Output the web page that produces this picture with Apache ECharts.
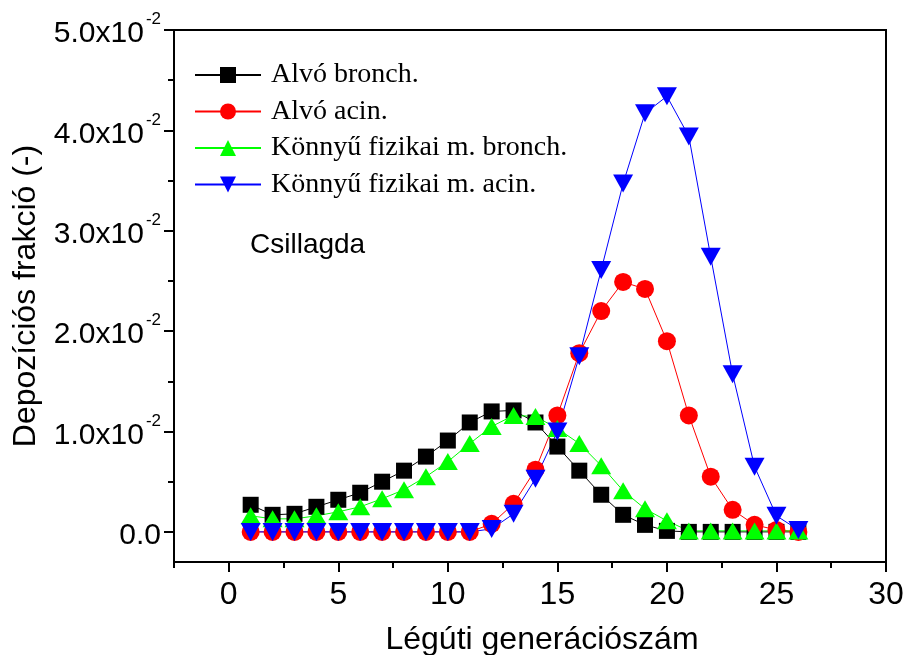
<!DOCTYPE html>
<html>
<head>
<meta charset="utf-8">
<script src="https://cdn.jsdelivr.net/npm/echarts@6/dist/echarts.min.js"></script>
<style>html,body{margin:0;padding:0;background:#fff}#c{width:904px;height:655px}</style>
</head>
<body>
<div id="c"></div>
<script>
var generations = [1,2,3,4,5,6,7,8,9,10,11,12,13,14,15,16,17,18,19,20,21,22,23,24,25,26];
var alvoBronch = [0.0027,0.0017,0.0018,0.0025,0.0032,0.0039,0.0050,0.0061,0.0075,0.0091,0.0109,0.0120,0.0121,0.0109,0.0085,0.0061,0.0037,0.0017,0.0007,0.0001,0,0,0,0,0,0];
var alvoAcin = [0,0,0,0,0,0,0,0,0,0,0,0.0008,0.0028,0.0062,0.0116,0.0178,0.0220,0.0249,0.0242,0.0190,0.0116,0.0055,0.0022,0.0007,0.0002,0.0000];
var kfBronch = [0.0016,0.0013,0.0013,0.0016,0.0020,0.0025,0.0033,0.0042,0.0055,0.0070,0.0088,0.0105,0.0116,0.0115,0.0103,0.0088,0.0066,0.0041,0.0023,0.0011,0.0001,0.0001,0.0001,0.0001,0.0001,0.0001];
var kfAcin = [0,0,0,0,0,0,0,0,0,0,0,0.0003,0.0018,0.0053,0.0100,0.0175,0.0261,0.0347,0.0417,0.0434,0.0394,0.0274,0.0157,0.0065,0.0016,0.0002];
var seriesNames = ['Alvó bronch.','Alvó acin.','Könnyű fizikai m. bronch.','Könnyű fizikai m. acin.'];
var xMajorTicks = [0,5,10,15,20,25,30];
var xMinorTicks = [-2.5,2.5,7.5,12.5,17.5,22.5,27.5];
var yMajorTicks = [0,0.01,0.02,0.03,0.04,0.05];
var yMinorTicks = [0.005,0.015,0.025,0.035,0.045];
var annotation = 'Csillagda';
var xTitle = 'Légúti generációszám';
var yTitle = 'Depozíciós frakció (-)';

function pairs(ys){ return generations.map(function(g,i){ return [g, ys[i]]; }); }

var chart = echarts.init(document.getElementById('c'), null, {renderer:'canvas'});
var sans = 'Liberation Sans';
var serif = 'Liberation Serif';
var xRange = {min:-2.5, max:30};
var yRange = {min:-0.003, max:0.05};

function mkSeries(name, data, color, symbol, size, rotate){
  return {
    name: name, type:'line', data: pairs(data),
    xAxisIndex:0, yAxisIndex:0,
    symbol: symbol, symbolSize: size, symbolRotate: rotate||0,
    showSymbol:true,
    itemStyle:{color:color, borderWidth:0},
    lineStyle:{color:color, width:1},
    emphasis:{disabled:true},
    animation:false
  };
}

chart.setOption({
  animation:false,
  backgroundColor:'#fff',
  grid:{left:174, right:18, top:30, bottom:93, show:true, borderColor:'#000', borderWidth:2, backgroundColor:'transparent', containLabel:false, outerBoundsMode:'none'},
  legend:{
    show:true, orient:'vertical', left:194, top:61, padding:0,
    itemWidth:66, itemHeight:20, itemGap:8.5,
    textStyle:{fontFamily:serif, fontSize:28, color:'#000', padding:[0,0,0,5]},
    data: seriesNames,
    selectedMode:false
  },
  xAxis:[{
    type:'value', min:xRange.min, max:xRange.max, position:'bottom',
    axisLine:{show:true, onZero:false, lineStyle:{color:'#000', width:2}},
    axisTick:{show:true, length:10, customValues:xMajorTicks, lineStyle:{color:'#000', width:2}},
    axisLabel:{show:true, customValues:xMajorTicks, margin:17, fontFamily:sans, fontSize:32, color:'#000'},
    splitLine:{show:false},
    name:xTitle, nameLocation:'middle', nameGap:62,
    nameTextStyle:{fontFamily:sans, fontSize:32, color:'#000', padding:[0,0,0,24]}
  },{
    type:'value', min:xRange.min, max:xRange.max, position:'bottom',
    axisLine:{show:false, onZero:false},
    axisTick:{show:true, length:6, customValues:xMinorTicks, lineStyle:{color:'#000', width:2}},
    axisLabel:{show:false},
    splitLine:{show:false}
  }],
  yAxis:[{
    type:'value', min:yRange.min, max:yRange.max, position:'left',
    axisLine:{show:true, onZero:false, lineStyle:{color:'#000', width:2}},
    axisTick:{show:true, length:10, customValues:yMajorTicks, lineStyle:{color:'#000', width:2}},
    axisLabel:{show:true, customValues:yMajorTicks, margin:13,
      formatter:function(v){
        if (Math.abs(v) < 1e-9) return '{n|0.0}';
        return '{n|' + (v*100).toFixed(1) + 'x10}{s|-2}';
      },
      rich:{n:{fontFamily:sans, fontSize:30, color:'#000', padding:[8,0,0,0]}, s:{fontFamily:sans, fontSize:17, color:'#000', verticalAlign:'top', padding:[0,0,0,2]}}
    },
    splitLine:{show:false},
    name:yTitle, nameLocation:'middle', nameGap:132,
    nameTextStyle:{fontFamily:sans, fontSize:32, color:'#000'}
  },{
    type:'value', min:yRange.min, max:yRange.max, position:'left',
    axisLine:{show:false, onZero:false},
    axisTick:{show:true, length:6, customValues:yMinorTicks, lineStyle:{color:'#000', width:2}},
    axisLabel:{show:false},
    splitLine:{show:false}
  }],
  graphic:[{type:'text', left:250, top:231, style:{text:annotation, fontFamily:sans, fontSize:28, fill:'#000'}}],
  series:[
    mkSeries(seriesNames[0], alvoBronch, '#000000', 'rect', 16),
    mkSeries(seriesNames[1], alvoAcin, '#ff0000', 'circle', 18),
    mkSeries(seriesNames[2], kfBronch, '#00ff00', 'triangle', [20,17]),
    mkSeries(seriesNames[3], kfAcin, '#0000ff', 'triangle', [20,18], 180)
  ]
});
</script>
</body>
</html>
